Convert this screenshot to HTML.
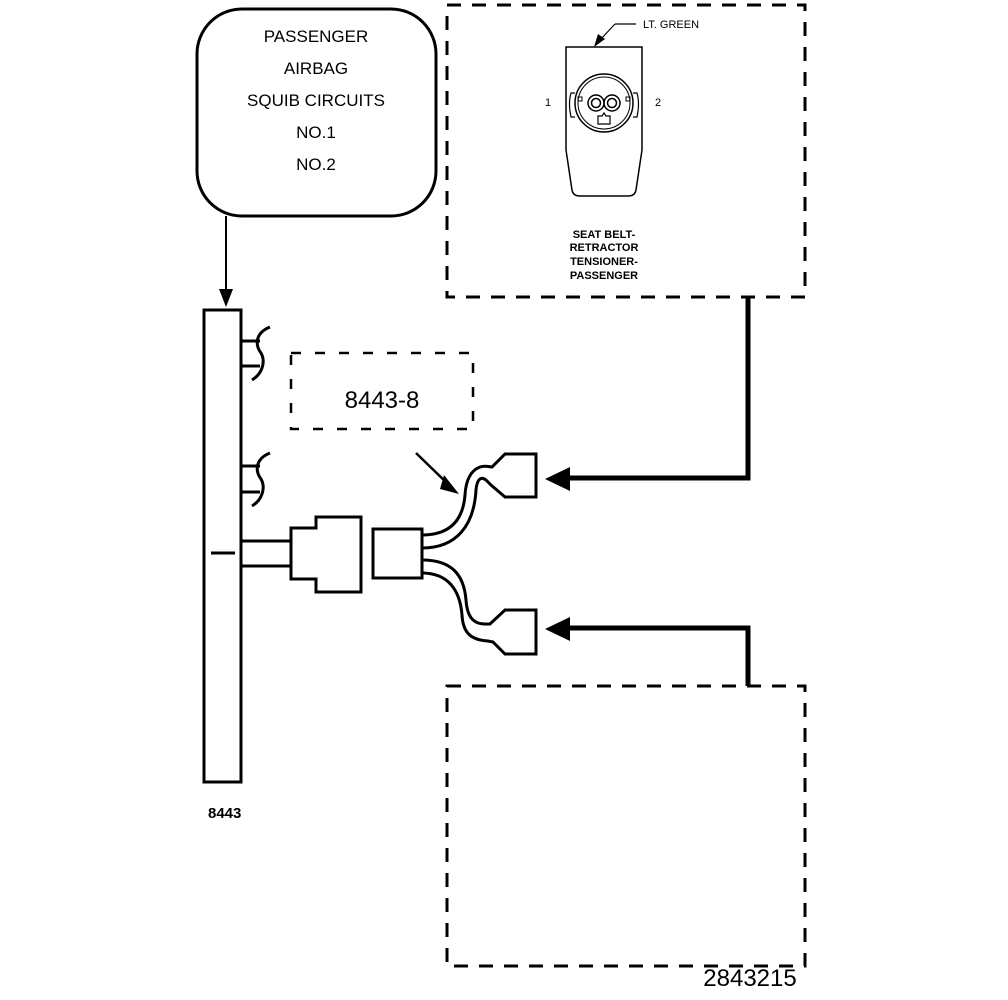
<!DOCTYPE html>
<html><head><meta charset="utf-8"><style>
html,body{margin:0;padding:0;background:#fff;}
svg{display:block;}
text{font-family:"Liberation Sans",sans-serif;fill:#000;}
</style></head><body>
<svg width="1008" height="1000" viewBox="0 0 1008 1000" xmlns="http://www.w3.org/2000/svg">
<g fill="none" stroke="#000">
<rect x="197" y="9" width="239" height="207" rx="45" ry="45" stroke-width="3"/>
<line x1="226" y1="216" x2="226" y2="292" stroke-width="2"/>
<polygon points="219,289 233,289 226,307" fill="#000" stroke="none"/>
<rect x="447" y="5" width="358" height="292" stroke-width="3" stroke-dasharray="14,11"/>
<rect x="447" y="686" width="358" height="280" stroke-width="3" stroke-dasharray="14,11"/>
<rect x="291" y="353" width="182" height="76" stroke-width="2.5" stroke-dasharray="10,14"/>
<rect x="204" y="310" width="37" height="472" stroke-width="3"/>
<line x1="211" y1="553" x2="235" y2="553" stroke-width="3"/>
<line x1="241" y1="341" x2="260" y2="341" stroke-width="3"/>
<line x1="241" y1="366" x2="260" y2="366" stroke-width="3"/>
<path d="M270,327 C255,333 255,345 261,353 C266,362 262,374 252,380" stroke-width="3"/>
<line x1="241" y1="466" x2="260" y2="466" stroke-width="3"/>
<line x1="241" y1="492" x2="260" y2="492" stroke-width="3"/>
<path d="M270,453 C255,459 255,471 261,479 C266,488 262,500 252,506" stroke-width="3"/>
<line x1="241" y1="541" x2="291" y2="541" stroke-width="3"/>
<line x1="241" y1="566" x2="291" y2="566" stroke-width="3"/>
<path d="M291,528 H316 V517 H361 V592 H316 V579 H291 Z" stroke-width="3"/>
<rect x="373" y="529" width="49" height="49" stroke-width="3"/>
<line x1="416" y1="453" x2="450" y2="486" stroke-width="2.5"/>
<polygon points="444,475 459,494 440,489" fill="#000" stroke="none"/>
<path d="M422,535 C450,535 463,520 465,495 C466,478 472,470 480,467 C486,465 489,467 492,467 L505,454 H536 V497 H505 L491,485 L486,480 C481,476 477,479 476,490 C474,525 457,548 422,548" stroke-width="3"/>
<path d="M422,560 C452,560 464,575 466,600 C467,615 472,624 485,624 L490,624 L505,610 H536 V654 H505 L493,642 L488,641 C472,640 463,634 462,615 C460,590 448,573 422,573" stroke-width="3"/>
<polyline points="748,297 748,478 568,478" stroke-width="5"/>
<polygon points="545,479 570,467 570,491" fill="#000" stroke="none"/>
<polyline points="748,686 748,628 568,628" stroke-width="5"/>
<polygon points="545,629 570,617 570,641" fill="#000" stroke="none"/>
<path d="M566,47 H642 V150 L636,190 Q635,196 628,196 H580 Q573,196 572,190 L566,150 Z" stroke-width="1.5"/>
<circle cx="604" cy="103" r="29" stroke-width="1.5"/>
<circle cx="604" cy="103" r="26" stroke-width="1"/>
<circle cx="596" cy="103" r="8" stroke-width="1.5"/>
<circle cx="596" cy="103" r="4.5" stroke-width="1.5"/>
<circle cx="612" cy="103" r="8" stroke-width="1.5"/>
<circle cx="612" cy="103" r="4.5" stroke-width="1.5"/>
<path d="M598,124 V116 H602 L604,113 L606,116 H610 V124 Z" stroke-width="1.2"/>
<path d="M575,93 H571 Q568,103 571,117 H575" stroke-width="1.2"/>
<path d="M633,93 H637 Q640,103 637,117 H633" stroke-width="1.2"/>
<rect x="578" y="97" width="4" height="4" stroke-width="1"/>
<rect x="626" y="97" width="4" height="4" stroke-width="1"/>
<line x1="615" y1="24" x2="636" y2="24" stroke-width="1.2"/>
<line x1="615" y1="24" x2="600" y2="40" stroke-width="1.2"/>
<polygon points="594,47 598,34 605,39" fill="#000" stroke="none"/>
</g>
<g font-size="17" text-anchor="middle">
<text x="316" y="42">PASSENGER</text>
<text x="316" y="74">AIRBAG</text>
<text x="316" y="106">SQUIB CIRCUITS</text>
<text x="316" y="138">NO.1</text>
<text x="316" y="170">NO.2</text>
</g>
<text x="382" y="408" font-size="24" text-anchor="middle">8443-8</text>
<text x="643" y="28" font-size="11">LT. GREEN</text>
<text x="545" y="106" font-size="11">1</text>
<text x="655" y="106" font-size="11">2</text>
<g font-size="11" font-weight="bold" text-anchor="middle">
<text x="604" y="238">SEAT BELT-</text>
<text x="604" y="251">RETRACTOR</text>
<text x="604" y="265">TENSIONER-</text>
<text x="604" y="279">PASSENGER</text>
</g>
<text x="208" y="818" font-size="15" font-weight="bold">8443</text>
<text x="750" y="986" font-size="24" text-anchor="middle">2843215</text>
</svg>
</body></html>
